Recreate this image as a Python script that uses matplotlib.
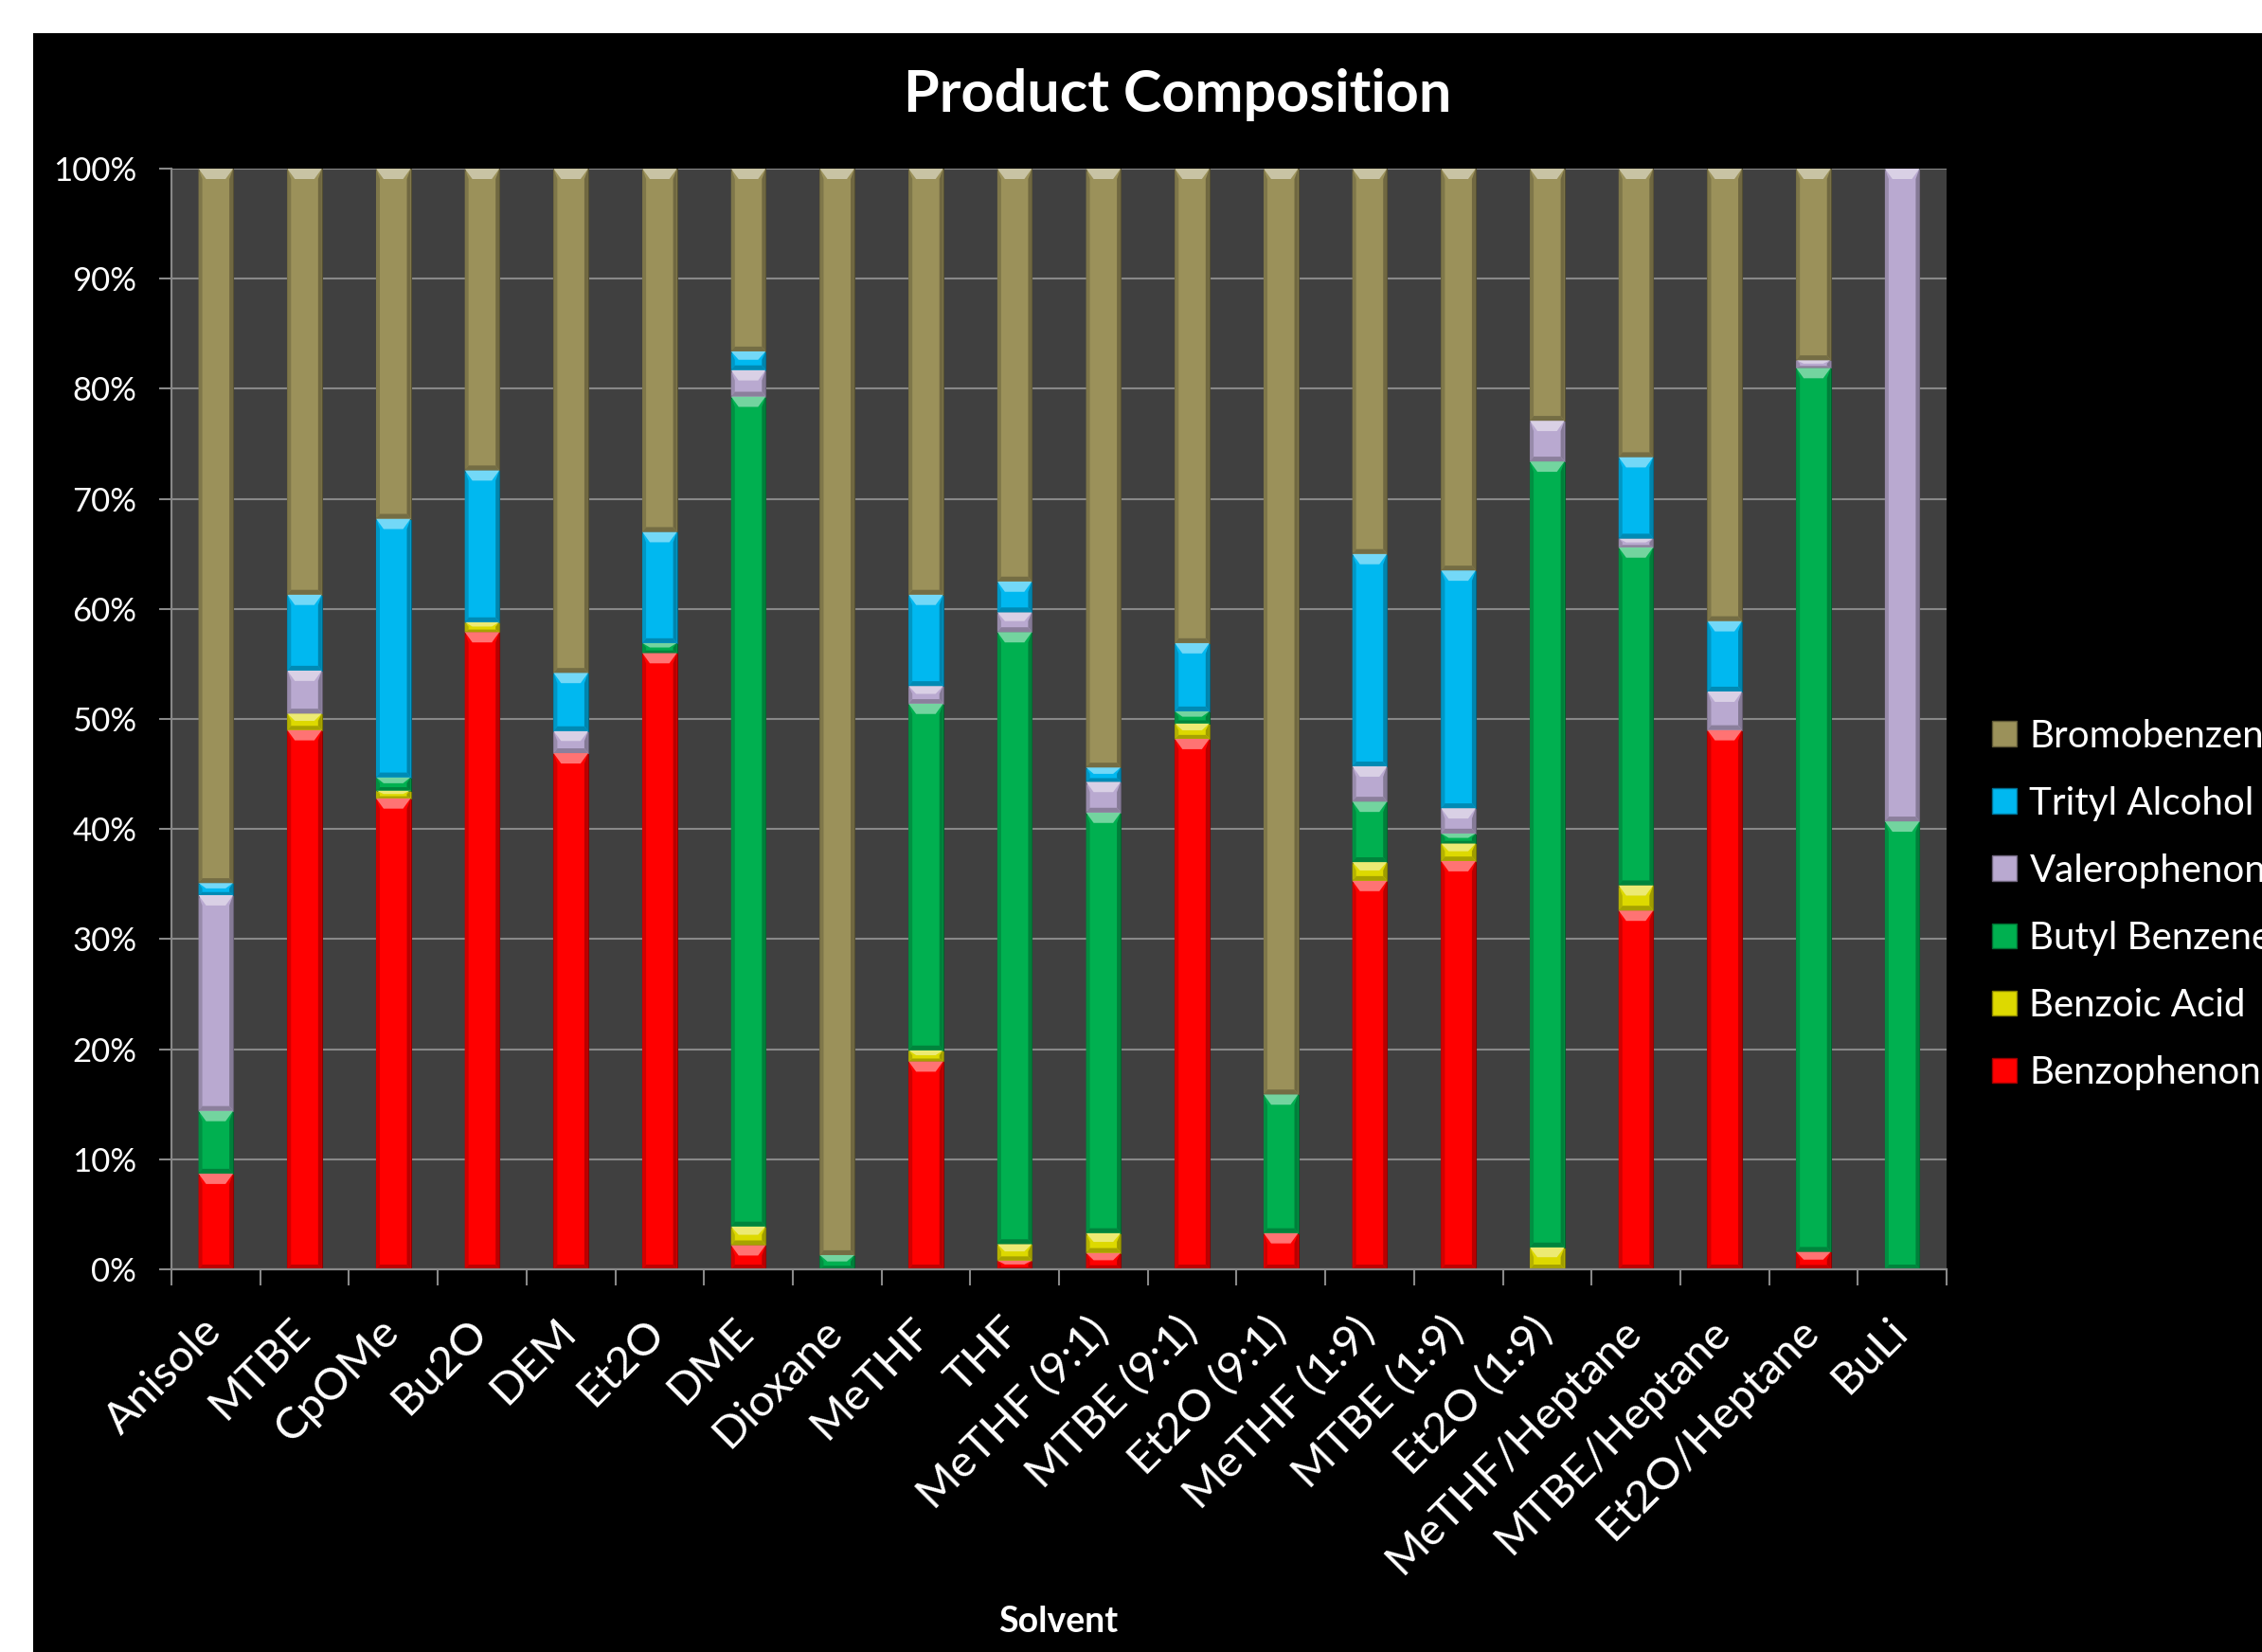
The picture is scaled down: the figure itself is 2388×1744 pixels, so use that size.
import matplotlib
matplotlib.use("Agg")
import matplotlib.pyplot as plt
import matplotlib.transforms as mtransforms
from matplotlib.patches import Polygon, Rectangle, Patch
from matplotlib.colors import to_rgb
import numpy as np

# ---- data (percent of product mixture per solvent) ----
categories = ["Anisole", "MTBE", "CpOMe", "Bu2O", "DEM", "Et2O", "DME", "Dioxane",
              "MeTHF", "THF", "MeTHF (9:1)", "MTBE (9:1)", "Et2O (9:1)", "MeTHF (1:9)",
              "MTBE (1:9)", "Et2O (1:9)", "MeTHF/Heptane", "MTBE/Heptane",
              "Et2O/Heptane", "BuLi"]

benzophenone = [8.7, 49.0, 42.8, 57.9, 46.9, 56.0, 2.2, 0.0, 18.9, 0.8,
                1.5, 48.2, 3.3, 35.3, 37.1, 0.0, 32.6, 49.0, 1.6, 0.0]
benzoic_acid = [0.0, 1.5, 0.7, 0.9, 0.0, 0.0, 1.7, 0.0, 1.0, 1.5,
                1.8, 1.4, 0.0, 1.7, 1.6, 2.0, 2.3, 0.0, 0.0, 0.0]
butyl_benzene = [5.7, 0.0, 1.2, 0.0, 0.0, 0.9, 75.4, 1.3, 31.5, 55.6,
                 38.2, 1.1, 12.6, 5.5, 0.9, 71.4, 30.7, 0.0, 80.3, 40.7]
valerophenone = [19.6, 3.9, 0.0, 0.0, 2.0, 0.0, 2.4, 0.0, 1.6, 1.8,
                 2.8, 0.0, 0.0, 3.2, 2.3, 3.7, 0.8, 3.5, 0.7, 59.3]
trityl_alcohol = [1.1, 6.9, 23.5, 13.8, 5.3, 10.1, 1.7, 0.0, 8.3, 2.8,
                  1.3, 6.2, 0.0, 19.3, 21.6, 0.0, 7.4, 6.4, 0.0, 0.0]
bromobenzene = [64.9, 38.7, 31.8, 27.4, 45.8, 33.0, 16.6, 98.7, 38.7, 37.5,
                54.4, 43.1, 84.1, 35.0, 36.5, 22.9, 26.2, 41.1, 17.4, 0.0]

series_names = ["Benzophenone", "Benzoic Acid", "Butyl Benzene",
                "Valerophenone", "Trityl Alcohol", "Bromobenzene"]
series_values = [benzophenone, benzoic_acid, butyl_benzene,
                 valerophenone, trityl_alcohol, bromobenzene]
series_colors = ["#FF0000", "#DDD900", "#00B050", "#B9A9D0", "#00B8F0", "#9B915A"]

y_ticks = [0, 10, 20, 30, 40, 50, 60, 70, 80, 90, 100]
y_tick_labels = [f"{v}%" for v in y_ticks]

# ---- figure ----
W, H, DPI = 2388, 1744, 100
plt.rcParams["font.family"] = ["Lato", "DejaVu Sans"]
fig = plt.figure(figsize=(W / DPI, H / DPI), dpi=DPI, facecolor="white")
fig.add_artist(Rectangle((35 / W, 0), 1, 1 - 35 / H, transform=fig.transFigure,
                         facecolor="black", edgecolor="none", zorder=-5))

ax = fig.add_axes([181 / W, 1 - 1340 / H, (2055 - 181) / W, (1340 - 178) / H])
ax.set_facecolor("#404040")
ax.set_xlim(-0.5, len(categories) - 0.5)
ax.set_ylim(0, 100)

GRID = "#888888"


def shade(c, f):
    r, g, b = to_rgb(c)
    return (r * f, g * f, b * f)


def tint(c, f):
    r, g, b = to_rgb(c)
    return (r + (1 - r) * f, g + (1 - g) * f, b + (1 - b) * f)


# pixel -> data conversion for the bevel decoration
bb = ax.get_window_extent()
sx = (ax.get_xlim()[1] - ax.get_xlim()[0]) / bb.width
sy = (ax.get_ylim()[1] - ax.get_ylim()[0]) / bb.height

BAR_W = 0.39
x = np.arange(len(categories))
bottom = np.zeros(len(categories))
for vals, col in zip(series_values, series_colors):
    vals = np.asarray(vals, dtype=float)
    bars = ax.bar(x, vals, BAR_W, bottom=bottom, color=col,
                  edgecolor=shade(col, 0.55), linewidth=0.8, zorder=2)
    for rect, v in zip(bars, vals):
        if v <= 0:
            continue
        xl, yb = rect.get_x(), rect.get_y()
        xr, yt = xl + rect.get_width(), yb + rect.get_height()
        hpx = rect.get_height() / sy
        ds = 4 * sx
        dxt = 8 * sx
        dyt = min(11, hpx * 0.45) * sy
        dyb = min(5, hpx * 0.25) * sy
        polys = [
            ([(xl, yb), (xl + ds, yb + dyb), (xl + ds, yt - dyt), (xl, yt)], shade(col, 0.82)),
            ([(xr, yb), (xr - ds, yb + dyb), (xr - ds, yt - dyt), (xr, yt)], shade(col, 0.72)),
            ([(xl, yb), (xr, yb), (xr - ds, yb + dyb), (xl + ds, yb + dyb)], shade(col, 0.75)),
            ([(xl, yt), (xr, yt), (xr - dxt, yt - dyt), (xl + dxt, yt - dyt)], tint(col, 0.45)),
        ]
        for pts, fc in polys:
            ax.add_patch(Polygon(pts, closed=True, facecolor=fc, edgecolor="none", zorder=3))
    bottom += vals

# ---- axes styling ----
for side in ("top", "right"):
    ax.spines[side].set_visible(False)
for side in ("left", "bottom"):
    ax.spines[side].set_color(GRID)
    ax.spines[side].set_linewidth(1.6)
    ax.spines[side].set_zorder(4)

ax.set_yticks(y_ticks)
ax.set_yticklabels(y_tick_labels, fontsize=25, color="white")
ax.tick_params(axis="y", length=9.5, width=1.5, color=GRID, pad=17)
ax.yaxis.grid(True, color=GRID, linewidth=1.5, zorder=1)
ax.set_axisbelow(True)

ax.set_xticks(x)
ax.set_xticklabels(categories, rotation=45, ha="right", va="baseline",
                   rotation_mode="anchor", fontsize=34, color="white")
ax.tick_params(axis="x", which="major", length=0, pad=49)
ax.set_xticks(np.arange(-0.5, len(categories), 1.0), minor=True)
ax.tick_params(axis="x", which="minor", length=12, width=1.5, color=GRID)
shift = mtransforms.ScaledTranslation(8 / DPI, 0, fig.dpi_scale_trans)
for lab in ax.get_xticklabels():
    lab.set_transform(lab.get_transform() + shift)

# ---- titles ----
fig.text(1243 / W, 1 - 118 / H, "Product Composition", ha="center", va="baseline",
         fontsize=44, fontweight="bold", color="white")
fig.text(1117 / W, 1 - 1723 / H, "Solvent", ha="center", va="baseline",
         fontsize=27, fontweight="bold", color="white")

# ---- legend (top entry = top of stack) ----
handles = [Patch(facecolor=c, edgecolor=shade(c, 0.6)) for c in reversed(series_colors)]
fig.legend(handles, list(reversed(series_names)), loc="upper left",
           bbox_to_anchor=(2103 / W, 1 - 759 / H), frameon=False, fontsize=29,
           labelcolor="white", handlelength=0.65, handleheight=0.65,
           handletextpad=0.33, labelspacing=0.845, borderpad=0, borderaxespad=0)

fig.savefig("out.png", dpi=DPI, facecolor=fig.get_facecolor())
